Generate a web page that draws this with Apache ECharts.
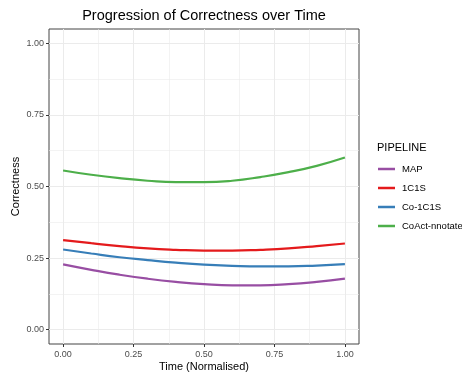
<!DOCTYPE html>
<html>
<head>
<meta charset="utf-8">
<script src="https://cdn.jsdelivr.net/npm/echarts@6/dist/echarts.min.js"></script>
<style>
  html, body { margin: 0; padding: 0; background: #fff; }
  #chart { width: 462px; height: 377px; }
</style>
</head>
<body>
<div id="chart"></div>
<script>
// time points (normalised) and smoothed correctness per pipeline
const timeSteps = [0, 0.1, 0.2, 0.3, 0.4, 0.5, 0.6, 0.7, 0.8, 0.9, 1.0]
const mapValues = [0.228, 0.209, 0.192, 0.178, 0.167, 0.159, 0.155, 0.155, 0.159, 0.167, 0.178]
const oneC1SValues = [0.313, 0.302, 0.292, 0.284, 0.279, 0.276, 0.276, 0.279, 0.284, 0.292, 0.301]
const co1C1SValues = [0.280, 0.266, 0.253, 0.243, 0.234, 0.227, 0.223, 0.221, 0.221, 0.224, 0.229]
const coActValues = [0.556, 0.541, 0.529, 0.520, 0.515, 0.515, 0.520, 0.533, 0.550, 0.572, 0.601]

const majorTicks = [0, 0.25, 0.5, 0.75, 1]
const minorTicks = [0.125, 0.375, 0.625, 0.875]

const seriesNames = ['MAP', '1C1S', 'Co-1C1S', 'CoAct-nnotate']
const seriesColors = ['#984EA3', '#E41A1C', '#377EB8', '#4DAF4A']
const seriesValues = [mapValues, oneC1SValues, co1C1SValues, coActValues]

const font = 'Liberation Sans, Arial, sans-serif'
const gridColor = '#EBEBEB'

function fmt (v) { return v.toFixed(2) }

const chart = echarts.init(document.getElementById('chart'))

function axisBase (isMain, position) {
  return {
    type: 'value',
    position: position,
    min: -0.05,
    max: 1.05,
    axisLine: { show: false, onZero: false },
    axisTick: {
      show: isMain,
      length: 3,
      lineStyle: { color: '#333' },
      customValues: isMain ? majorTicks : minorTicks
    },
    axisLabel: {
      show: isMain,
      customValues: isMain ? majorTicks : minorTicks,
      formatter: fmt,
      color: '#4D4D4D',
      fontSize: 9,
      fontFamily: font
    },
    splitLine: {
      show: true,
      lineStyle: { color: gridColor, width: isMain ? 1 : 0.6 }
    }
  }
}

const xMain = Object.assign(axisBase(true, 'bottom'), {
  name: 'Time (Normalised)',
  nameLocation: 'middle',
  nameGap: 17,
  nameMoveOverlap: false,
  nameTextStyle: { color: '#000', fontSize: 11, fontFamily: font }
})
xMain.axisLabel.margin = 6
const yMain = Object.assign(axisBase(true, 'left'), {
  name: 'Correctness',
  nameLocation: 'middle',
  nameGap: 28,
  nameMoveOverlap: false,
  nameTextStyle: { color: '#000', fontSize: 11, fontFamily: font }
})
yMain.axisLabel.margin = 5

chart.setOption({
  animation: false,
  title: [{
    text: 'Progression of Correctness over Time',
    left: 199,
    textAlign: 'center',
    top: 3,
    textStyle: { color: '#000', fontSize: 14.5, fontWeight: 'normal', fontFamily: font }
  }, {
    text: 'PIPELINE',
    left: 372,
    top: 137,
    textStyle: { color: '#000', fontSize: 11, fontWeight: 'normal', fontFamily: font }
  }],
  legend: {
    orient: 'vertical',
    left: 373,
    top: 159,
    icon: 'rect',
    itemWidth: 17,
    itemHeight: 2.5,
    itemGap: 9,
    textStyle: { color: '#000', fontSize: 9.5, fontFamily: font, padding: [0, 0, 0, 2] },
    data: seriesNames
  },
  grid: {
    left: 49,
    right: 103,
    top: 29,
    bottom: 33,
    outerBoundsMode: 'none',
    containLabel: false,
    show: true,
    borderColor: '#444',
    borderWidth: 1,
    backgroundColor: 'transparent'
  },
  xAxis: [axisBase(false, 'bottom'), xMain],
  yAxis: [axisBase(false, 'left'), yMain],
  series: seriesNames.map((name, i) => ({
    name: name,
    type: 'line',
    xAxisIndex: 1,
    yAxisIndex: 1,
    smooth: true,
    showSymbol: false,
    lineStyle: { width: 2.2, color: seriesColors[i] },
    itemStyle: { color: seriesColors[i] },
    data: timeSteps.map((t, j) => [t, seriesValues[i][j]])
  }))
})
</script>
</body>
</html>
